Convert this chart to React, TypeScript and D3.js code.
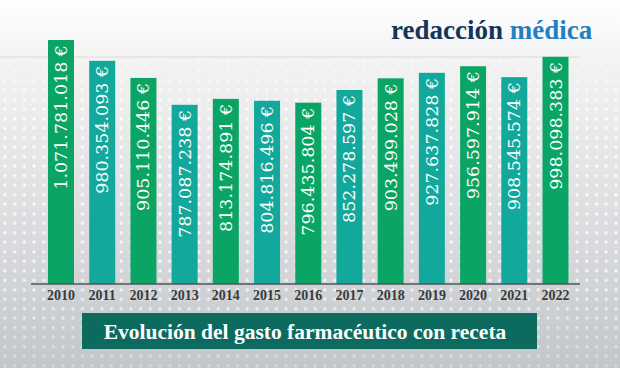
import React from 'react';
import * as d3 from 'd3';

// gasto farmacéutico con receta, euros por año
const years = ['2010', '2011', '2012', '2013', '2014', '2015', '2016', '2017', '2018', '2019', '2020', '2021', '2022'];
const gasto = [
  1071781018, 980354093, 905110446, 787087238, 813174891, 804816496, 796435804,
  852278597, 903499028, 927637828, 956597914, 908545574, 998098383,
];
const labels = [
  '1.071.781.018 €', '980.354.093 €', '905.110.446 €', '787.087.238 €', '813.174.891 €',
  '804.816.496 €', '796.435.804 €', '852.278.597 €', '903.499.028 €', '927.637.828 €',
  '956.597.914 €', '908.545.574 €', '998.098.383 €',
];

const W = 620;
const H = 368;
const baseY = 284;
const barW = 26;
const GREEN = '#0aa565';
const TEAL = '#12a99c';
const SERIF = "'DejaVu Serif', serif";
const SERIF2 = "'Liberation Serif', 'Times New Roman', serif";

const App = () => {
  const x = d3.scalePoint<string>().domain(years).range([61, 555.5]);
  const y = d3.scaleLinear().domain([0, d3.max(gasto) as number]).range([baseY, 40]);

  return (
    <svg width={W} height={H} style={{ position: 'absolute', left: 0, top: 0 }}>
      <defs>
        <linearGradient id="bg" x1="0" y1="0" x2="0" y2="1">
          <stop offset="0" stopColor="#ffffff" />
          <stop offset="0.16" stopColor="#f3f3f3" />
          <stop offset="0.55" stopColor="#dfe0e2" />
          <stop offset="1" stopColor="#c2c6ca" />
        </linearGradient>
        <pattern id="dots" width="9.7" height="9.5" patternUnits="userSpaceOnUse">
          <circle cx="4.85" cy="4.75" r="1.6" fill="#ffffff" />
        </pattern>
        <linearGradient id="fade" x1="0" y1="0" x2="0" y2="1">
          <stop offset="0" stopColor="#fff" stopOpacity="0.4" />
          <stop offset="0.2" stopColor="#fff" stopOpacity="1" />
          <stop offset="0.7" stopColor="#fff" stopOpacity="0.85" />
          <stop offset="1" stopColor="#fff" stopOpacity="0.35" />
        </linearGradient>
        <mask id="dotmask">
          <rect x={0} y={58} width={W} height={H - 58} fill="url(#fade)" />
        </mask>
      </defs>

      <rect width={W} height={H} fill="url(#bg)" />
      <rect x={0} y={58} width={W} height={H - 58} fill="url(#dots)" mask="url(#dotmask)" />
      <line x1={0} x2={580} y1={57} y2={57} stroke="#dcdcdc" strokeWidth={1} />

      {/* logo */}
      <text x={391} y={39} style={{ fontFamily: SERIF2, fontWeight: 'bold', fontSize: 27 }}>
        <tspan fill="#15355a">redacción </tspan>
        <tspan fill="#1f80c3">médica</tspan>
      </text>

      {/* barras */}
      {gasto.map((v, i) => (
        <rect
          key={years[i]}
          x={(x(years[i]) as number) - barW / 2}
          y={y(v)}
          width={barW}
          height={baseY - y(v)}
          fill={i % 2 === 0 ? GREEN : TEAL}
        />
      ))}

      {gasto.map((v, i) => {
        const cx = x(years[i]) as number;
        const ty = y(v) + 5;
        return (
          <text
            key={'l' + years[i]}
            transform={`translate(${cx + 6},${ty}) rotate(-90)`}
            textAnchor="end"
            fill="#ffffff"
            style={{ fontFamily: SERIF, fontSize: 17.5 }}
          >
            {labels[i]}
          </text>
        );
      })}

      <line x1={31} x2={580} y1={baseY} y2={baseY} stroke="#505458" strokeWidth={1.5} />

      {years.map((yr) => (
        <text
          key={'y' + yr}
          x={x(yr) as number}
          y={300}
          textAnchor="middle"
          fill="#3a3a3c"
          style={{ fontFamily: SERIF2, fontWeight: 'bold', fontSize: 14 }}
        >
          {yr}
        </text>
      ))}

      {/* título */}
      <rect x={82} y={313} width={455} height={36} fill="#0d6a5e" />
      <text
        x={305}
        y={338.5}
        textAnchor="middle"
        fill="#ffffff"
        style={{ fontFamily: SERIF2, fontWeight: 'bold', fontSize: 21.5 }}
      >
        Evolución del gasto farmacéutico con receta
      </text>
    </svg>
  );
};

export default App;
